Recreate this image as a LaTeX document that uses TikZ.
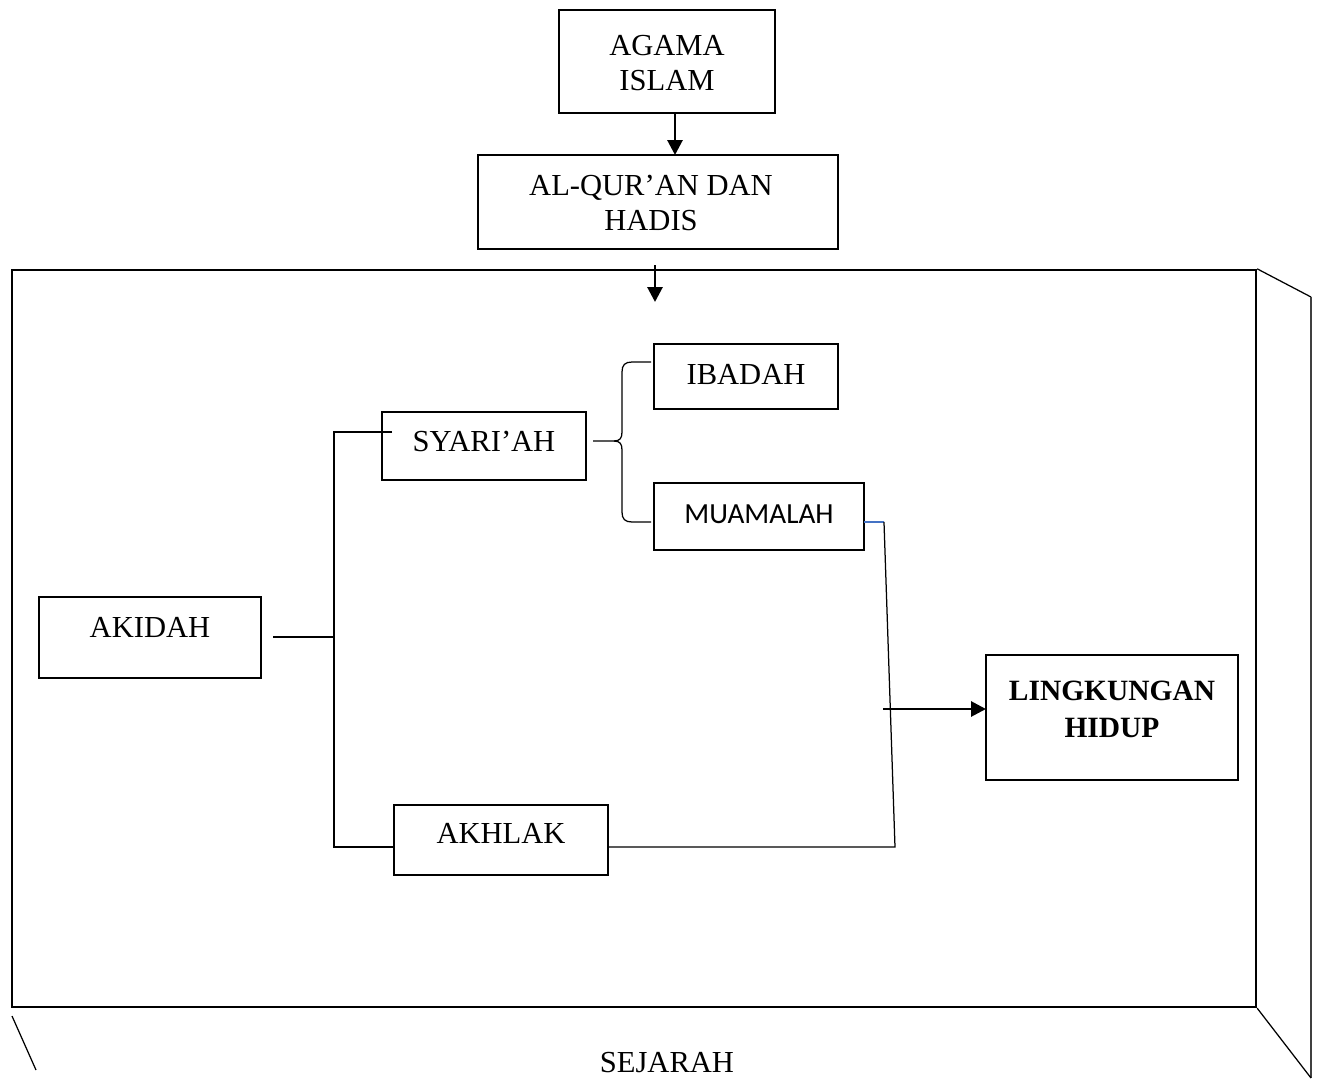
\documentclass[tikz,border=0pt]{standalone}
\usepackage{fontspec}
\setmainfont{Liberation Serif}
\newfontfamily\calib{Carlito}
\usetikzlibrary{arrows.meta,fit}
\definecolor{wordblue}{RGB}{68,114,196}
\begin{document}
\begin{tikzpicture}[x=0.36pt,y=-0.36pt,
  box/.style={draw,line width=1.05pt,inner sep=0pt,outer sep=0pt},
  thin/.style={line width=0.45pt},
  arr/.style={line width=1.05pt,-{Triangle[length=5.4pt,width=5.4pt]}},
  lbl/.style={font=\fontsize{11}{12.6}\selectfont,align=center,inner sep=0pt}]
\useasboundingbox (0,0) rectangle (1320,1080);
% boxes
\node (agama) [box,fit={(559,10) (775,113)}] {};
\node (quran) [box,fit={(478,155) (838,249)}] {};
\node (frame) [draw,line width=0.85pt,inner sep=0pt,fit={(12,270) (1256,1007)}] {};
\node (syariah) [box,fit={(382,412) (586,480)}] {};
\node (ibadah) [box,fit={(654,344) (838,409)}] {};
\node (muamalah) [box,fit={(654,483) (864,550)}] {};
\node (akidah) [box,fit={(39,597) (261,678)}] {};
\node (akhlak) [box,fit={(394,805) (608,875)}] {};
\node (lingk) [box,fit={(986,655) (1238,780)}] {};
% texts
\node (tagama) [lbl] at (667,63) {AGAMA\\ISLAM};
\node (tquran) [lbl] at (651,203) {AL-QUR’AN DAN\\HADIS};
\node (tsyariah) [lbl] at (484,441) {SYARI’AH};
\node (tibadah) [lbl] at (746,374) {IBADAH};
\node (tmuamalah) [inner sep=0pt,font=\calib\fontsize{10.5}{12}\selectfont] at (759,514) {MUAMALAH};
\node (takidah) [lbl] at (150,627) {AKIDAH};
\node (takhlak) [lbl] at (501,833) {AKHLAK};
\node (tlingk) [lbl,font=\bfseries\fontsize{10.6}{13.3}\selectfont] at (1112,709) {LINGKUNGAN\\HIDUP};
\node (tsejarah) [lbl] at (667,1063) {SEJARAH};
% arrows
\draw[arr] (agama.south -| 675,0) -- (quran.north -| 675,0);
\coordinate (qa) at (655,265);
\coordinate (qb) at (655,302);
\draw[arr] (qa) -- (qb);
% frame sides
\coordinate (rt1) at (1311,297);
\coordinate (rb1) at (1311,1078);
\coordinate (lb1) at (12,1016);
\coordinate (lb2) at (36,1070);
\draw[thin] (frame.north east) -- (rt1);
\draw[line width=0.6pt,black!75] (rt1) -- (rb1);
\draw[thin] (frame.south east) -- (rb1);
\draw[thin] (lb1) -- (lb2);
% akidah tree
\coordinate (ak1) at (273,637);
\coordinate (spine) at (334,637);
\draw[thin] (ak1) -- (spine);
\draw[thin] (392,432) -- (334,432) -- (334,847) -- (akhlak.west |- 0,847);
% brace
\draw[thin] (593,441) -- (614,441) .. controls (620,441) and (622,438) .. (622,432) -- (622,372) .. controls (622,365) and (625,362) .. (632,362) -- (651,362);
\draw[thin] (614,441) .. controls (620,441) and (622,444) .. (622,450) -- (622,512) .. controls (622,519) and (625,522) .. (632,522) -- (651,522);
% muamalah / akhlak to lingkungan
\coordinate (mb) at (884,522);
\coordinate (mc) at (895,847);
\draw[thin,wordblue] (muamalah.east |- 0,522) -- (mb);
\draw[thin] (mb) -- (mc) -- (akhlak.east |- 0,847);
\coordinate (la) at (883,709);
\draw[arr] (la) -- (lingk.west |- la);
\end{tikzpicture}
\end{document}
